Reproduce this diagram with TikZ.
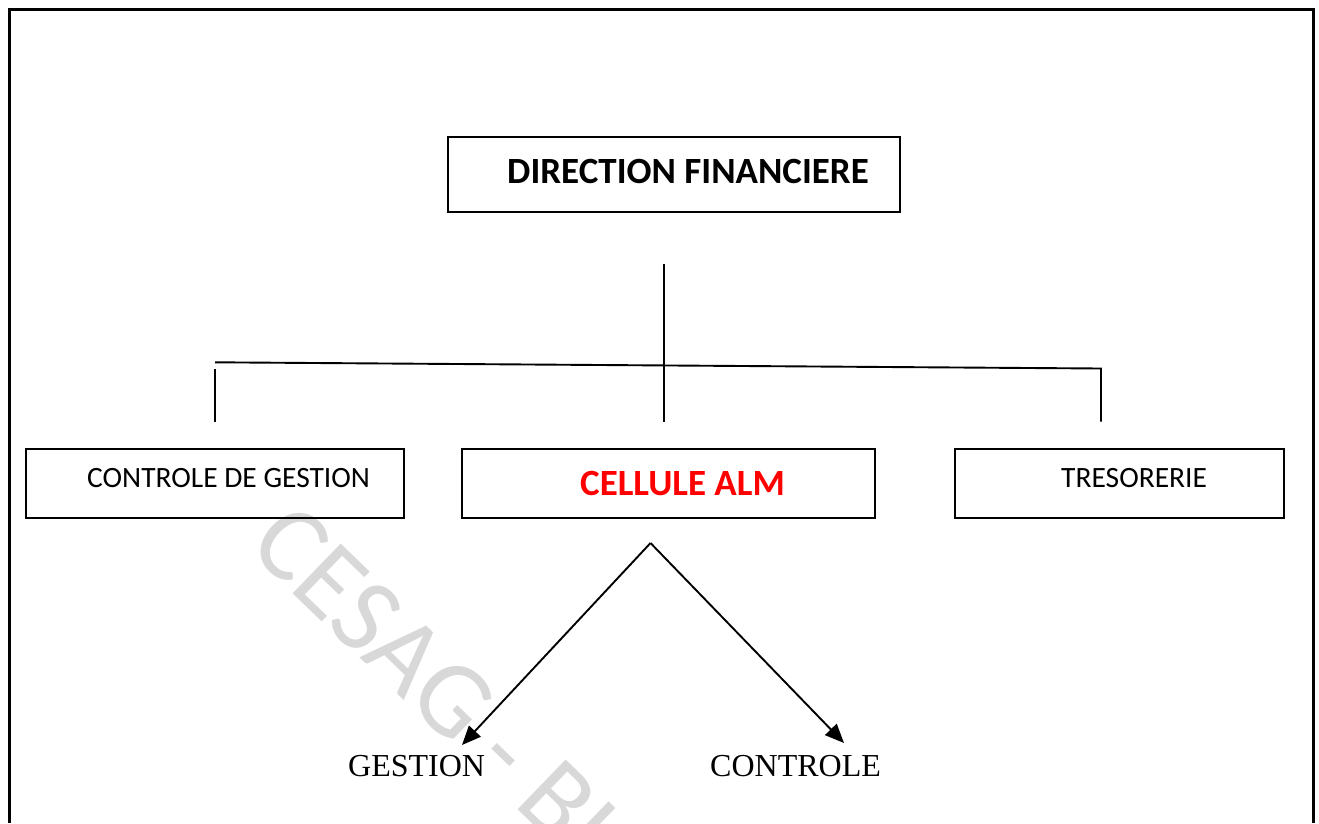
\documentclass[tikz,border=0pt]{standalone}
\usepackage{fontspec}
\setmainfont{Carlito}
\newfontfamily\serifface{Liberation Serif}
\usetikzlibrary{arrows.meta}
\definecolor{markgray}{RGB}{216,216,216}
\definecolor{almred}{RGB}{255,0,0}
\tikzset{
  unitbox/.style={draw, line width=1.6pt, inner sep=0pt, anchor=north west},
  plainlbl/.style={inner sep=0pt, anchor=west, font=\fontsize{29.5}{32}\selectfont},
  boldlbl/.style={inner sep=0pt, anchor=west, font=\fontsize{37}{40}\selectfont\bfseries},
  leaflbl/.style={inner sep=0pt, anchor=base west, font=\fontsize{32}{34}\selectfont\serifface},
  conn/.style={line width=1.9pt},
  arrowconn/.style={line width=1.9pt, -{Triangle[length=19pt,width=16pt]}}
}
\begin{document}
\begin{tikzpicture}[x=1pt, y=-1pt]
\useasboundingbox (0,0) rectangle (1319,823);

% background watermark
\begin{scope}
  \clip (0,0) rectangle (1319,823);
  \node[rotate=-44, anchor=base west, inner sep=0pt, text=markgray,
        font=\fontsize{108}{108}\selectfont] (mark) at (246,548) {CESAG - BI};
\end{scope}

% page frame (open at the bottom)
\draw[line width=2.8pt] (9.5,823) -- (9.5,9.5) -- (1313.5,9.5) -- (1313.5,823);

% boxes
\node[unitbox, minimum width=452pt, minimum height=75pt] (df) at (447,136) {};
\node[unitbox, minimum width=378pt, minimum height=69pt] (cdg) at (25,448) {};
\node[unitbox, minimum width=413pt, minimum height=69pt] (alm) at (461,448) {};
\node[unitbox, minimum width=329pt, minimum height=69pt] (tres) at (954,448) {};

% box captions
\node[boldlbl] (dflbl) at (507,171) {DIRECTION FINANCIERE};
\node[plainlbl] (cdglbl) at (87,478) {CONTROLE DE GESTION};
\node[boldlbl, text=almred] (almlbl) at (580,483) {CELLULE ALM};
\node[plainlbl] (treslbl) at (1061,478) {TRESORERIE};

% bus connectors
\coordinate (trunktop) at (664,264);
\coordinate (trunkbot) at (664,421.5);
\coordinate (busL) at (215,362.3);
\coordinate (busR) at (1101,368.5);
\coordinate (dropLtop) at (215,369);
\coordinate (dropLbot) at (215,421.5);
\coordinate (dropRbot) at (1101,421.5);
\draw[conn] (trunktop) -- (trunkbot);
\draw[conn] (busL) -- (busR) -- (dropRbot);
\draw[conn] (dropLtop) -- (dropLbot);

% branch labels
\node[leaflbl] (gestion) at (348,776) {GESTION};
\node[leaflbl] (controle) at (710,776) {CONTROLE};

% arrows from the cell
\coordinate (apex) at (650.5,543);
\coordinate (tipG) at (462,745);
\coordinate (tipC) at (844,743);
\draw[arrowconn] (apex) -- (tipG);
\draw[arrowconn] (apex) -- (tipC);
\end{tikzpicture}
\end{document}
